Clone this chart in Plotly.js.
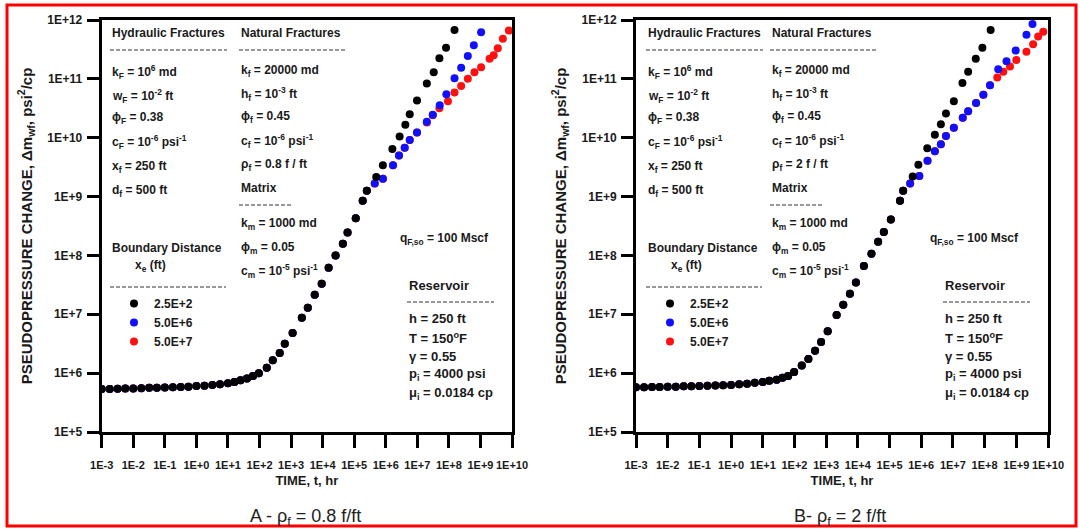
<!DOCTYPE html>
<html><head><meta charset="utf-8">
<script src="https://cdn.plot.ly/plotly-3.0.1.min.js"></script>
<style>html,body{margin:0;padding:0;background:#fff}</style>
</head><body><div id="chart" style="width:1080px;height:529px"></div>
<script>
// ---------------- DATA ----------------
const seriesNames = ['2.5E+2', '5.0E+6', '5.0E+7'];          // boundary distance x_e (ft)
const seriesColors = ['#000000', '#1010ff', '#ff1010'];

const xTickVals = [1e-3, 1e-2, 1e-1, 1e0, 1e1, 1e2, 1e3, 1e4, 1e5, 1e6, 1e7, 1e8, 1e9, 1e10];
const xTickText = ['1E-3', '1E-2', '1E-1', '1E+0', '1E+1', '1E+2', '1E+3', '1E+4', '1E+5', '1E+6', '1E+7', '1E+8', '1E+9', '1E+10'];
const yTickVals = [1e5, 1e6, 1e7, 1e8, 1e9, 1e10, 1e11, 1e12];
const yTickText = ['1E+5', '1E+6', '1E+7', '1E+8', '1E+9', '1E+10', '1E+11', '1E+12'];

// Panel A (rho_f = 0.8 f/ft) : common early-time response (all three boundaries)
const timeEarlyA = [1e-3, 1.8e-3, 3.2e-3, 5.6e-3, 1e-2, 1.8e-2, 3.2e-2, 5.6e-2, 0.1, 0.18, 0.32, 0.56,
  1, 1.8, 3.2, 5.6, 10, 16, 25, 40, 62, 95, 170, 263, 437, 631, 1120, 2190, 3390, 5620, 9330,
  15500, 25700, 43700, 61700, 112000, 186000, 251000];
const dpEarlyA = [5.37e5, 5.37e5, 5.43e5, 5.5e5, 5.5e5, 5.56e5, 5.62e5, 5.62e5, 5.69e5, 5.75e5, 5.82e5, 5.89e5,
  6.03e5, 6.1e5, 6.31e5, 6.46e5, 6.76e5, 7.08e5, 7.59e5, 8.13e5, 8.91e5, 1.0e6, 1.23e6, 1.66e6, 2.19e6, 3.16e6,
  4.79e6, 8.71e6, 1.29e7, 2.14e7, 3.31e7, 6.17e7, 1.0e8, 1.58e8, 2.45e8, 4.27e8, 8.51e8, 1.26e9];
// Panel A late-time, per boundary distance
const timeBlackA = [5.0e5, 8.1e5, 1.62e6, 2.75e6, 4.17e6, 5.75e6, 9.77e6, 2.0e7, 3.31e7, 5.01e7, 8.13e7, 1.51e8];
const dpBlackA = [2.14e9, 3.39e9, 6.46e9, 1.05e10, 1.66e10, 2.51e10, 4.27e10, 8.32e10, 1.29e11, 2.24e11, 3.39e11, 6.76e11];
const timeBlueA = [4.47e5, 8.13e5, 1.70e6, 2.63e6, 3.98e6, 5.75e6, 9.77e6, 2.0e7, 3.09e7, 5.13e7, 8.32e7, 1.51e8,
  2.45e8, 3.98e8, 6.17e8, 1.05e9];
const dpBlueA = [1.66e9, 2.0e9, 3.39e9, 5.01e9, 6.76e9, 9.12e9, 1.23e10, 1.86e10, 2.45e10, 3.55e10, 5.5e10, 1.02e11,
  1.55e11, 2.45e11, 3.72e11, 6.17e11];
const timeRedA = [4.47e5, 8.13e5, 1.70e6, 2.63e6, 3.98e6, 5.75e6, 9.77e6, 2.0e7, 3.09e7, 5.01e7, 9.33e7, 1.51e8,
  2.45e8, 3.98e8, 6.46e8, 1.05e9, 1.95e9, 2.63e9, 3.55e9, 5.13e9, 7.94e9];
const dpRedA = [1.66e9, 2.0e9, 3.39e9, 5.01e9, 6.76e9, 9.12e9, 1.23e10, 1.82e10, 2.40e10, 3.16e10, 4.17e10, 5.89e10,
  7.59e10, 1.0e11, 1.29e11, 1.58e11, 2.19e11, 2.51e11, 3.31e11, 4.79e11, 6.61e11];

// Panel B (rho_f = 2 f/ft)
const timeEarlyB = [1e-3, 1.8e-3, 3.2e-3, 5.6e-3, 1e-2, 1.8e-2, 3.2e-2, 5.6e-2, 0.1, 0.18, 0.32, 0.56,
  1, 1.8, 3.2, 5.6, 10, 16, 27.5, 41.7, 63.1, 97.7, 170, 275, 447, 692, 1120, 2140, 3470, 5620, 8710,
  15500, 26900, 43700, 66100, 110000, 214000, 269000];
const dpEarlyB = [5.75e5, 5.75e5, 5.82e5, 5.82e5, 5.89e5, 5.89e5, 5.96e5, 5.96e5, 6.03e5, 6.1e5, 6.17e5, 6.24e5,
  6.31e5, 6.46e5, 6.61e5, 6.84e5, 7.08e5, 7.41e5, 7.76e5, 8.32e5, 8.91e5, 1.05e6, 1.35e6, 1.74e6, 2.40e6, 3.39e6,
  5.13e6, 9.77e6, 1.45e7, 2.24e7, 3.47e7, 6.61e7, 1.07e8, 1.70e8, 2.51e8, 4.07e8, 8.51e8, 1.26e9];
const timeBlackB = [5.37e5, 8.13e5, 1.55e6, 2.69e6, 4.17e6, 6.03e6, 1.07e7, 2.0e7, 3.02e7, 5.25e7, 8.51e7, 1.55e8];
const dpBlackB = [2.19e9, 3.47e9, 6.61e9, 1.12e10, 1.70e10, 2.57e10, 4.17e10, 8.51e10, 1.32e11, 2.19e11, 3.39e11, 6.76e11];
const timeBlueB = [4.47e5, 8.71e5, 1.58e6, 2.69e6, 4.17e6, 6.03e6, 1.07e7, 2.04e7, 3.02e7, 5.37e7, 9.12e7, 1.48e8,
  2.69e8, 4.90e8, 9.55e8, 2.09e9, 3.24e9];
const dpBlueB = [1.66e9, 2.24e9, 4.07e9, 5.89e9, 7.76e9, 1.07e10, 1.48e10, 2.19e10, 2.82e10, 3.89e10, 5.37e10, 7.76e10,
  1.45e11, 2.0e11, 3.02e11, 5.62e11, 8.51e11];
const timeRedB = [4.47e5, 8.71e5, 1.58e6, 2.69e6, 4.17e6, 6.03e6, 1.07e7, 2.04e7, 3.02e7, 5.37e7, 9.12e7, 1.48e8,
  2.51e8, 3.89e8, 6.31e8, 1.0e9, 2.09e9, 3.39e9, 4.90e9, 7.08e9];
const dpRedB = [1.66e9, 2.24e9, 4.07e9, 5.89e9, 7.76e9, 1.07e10, 1.48e10, 2.19e10, 2.82e10, 3.89e10, 5.37e10, 7.76e10,
  1.05e11, 1.32e11, 1.62e11, 2.09e11, 2.88e11, 3.89e11, 5.25e11, 6.31e11];

// ---------------- LAYOUT HELPERS ----------------
const W = 1080, H = 529;
const px = x => x / W;
const py = y => 1 - y / H;
const FONT = "'Liberation Sans Narrow', 'Arial Narrow', 'Liberation Sans', Arial, sans-serif";
const TXT = '#1a1a1a';

function mk(name, color, xs, ys, xa, ya, lg) {
  return { type: 'scatter', mode: 'markers', name: name, x: xs, y: ys, xaxis: xa, yaxis: ya, legend: lg,
    marker: { color: color, size: 8, line: { width: 0 } }, cliponaxis: true, hoverinfo: 'x+y+name' };
}
const traces = [
  mk(seriesNames[2], seriesColors[2], timeEarlyA.concat(timeRedA), dpEarlyA.concat(dpRedA), 'x', 'y', 'legend'),
  mk(seriesNames[1], seriesColors[1], timeEarlyA.concat(timeBlueA), dpEarlyA.concat(dpBlueA), 'x', 'y', 'legend'),
  mk(seriesNames[0], seriesColors[0], timeEarlyA.concat(timeBlackA), dpEarlyA.concat(dpBlackA), 'x', 'y', 'legend'),
  mk(seriesNames[2], seriesColors[2], timeEarlyB.concat(timeRedB), dpEarlyB.concat(dpRedB), 'x2', 'y2', 'legend2'),
  mk(seriesNames[1], seriesColors[1], timeEarlyB.concat(timeBlueB), dpEarlyB.concat(dpBlueB), 'x2', 'y2', 'legend2'),
  mk(seriesNames[0], seriesColors[0], timeEarlyB.concat(timeBlackB), dpEarlyB.concat(dpBlackB), 'x2', 'y2', 'legend2')
];

const yTitle = 'PSEUDOPRESSURE CHANGE, Δm<sub>wf</sub>, psi<sup>2</sup>/cp';
function xAxis(domain, anchor) {
  return { type: 'log', domain: domain, anchor: anchor, range: [-3, 10], tickvals: xTickVals, ticktext: xTickText,
    tickangle: 0, showline: true, linewidth: 3, linecolor: '#000', mirror: true, ticks: 'outside', ticklen: 13, tickwidth: 3,
    tickcolor: '#000', showgrid: false, zeroline: false, ticklabelstandoff: 8,
    tickfont: { family: FONT, size: 11, weight: 'bold', color: TXT },
    title: { text: 'TIME, t, hr', standoff: 6, font: { family: FONT, size: 13, weight: 'bold', color: TXT } } };
}
function yAxis(domain, anchor) {
  return { type: 'log', domain: domain, anchor: anchor, range: [5, 12], tickvals: yTickVals, ticktext: yTickText,
    showline: true, linewidth: 3, linecolor: '#000', mirror: true, ticks: 'outside', ticklen: 12, tickwidth: 3,
    tickcolor: '#000', showgrid: false, zeroline: false, ticklabelstandoff: 2,
    tickfont: { family: FONT, size: 12, weight: 'bold', color: TXT },
    title: { text: yTitle, standoff: 12, font: { family: FONT, size: 15, weight: 'bold', color: TXT } } };
}
const yDom = [py(432), py(20)];

// ---- annotations (parameter boxes) ----
const ann = [];
function t(x, y, text, opts) {
  ann.push(Object.assign({ xref: 'paper', yref: 'paper', x: px(x), y: py(y), text: text, showarrow: false,
    xanchor: 'left', yanchor: 'middle', font: { family: FONT, size: 12, weight: 'bold', color: TXT } }, opts || {}));
}
const shapes = [];
function dash(x0, x1, y) {
  shapes.push({ type: 'line', xref: 'paper', yref: 'paper', x0: px(x0), x1: px(x1), y0: py(y), y1: py(y),
    line: { color: '#333', width: 1.2, dash: '4px,2px' } });
}
const big = { font: { family: FONT, size: 13, weight: 'bold', color: TXT } };
function panelText(o, rhoText, cmExp) {
  const hx = o.hx, nx = o.nx;
  t(hx, 33, 'Hydraulic Fractures'); dash(hx, hx + 117, 50);
  t(hx, 72, 'k<sub>F</sub> = 10<sup>6</sup> md');
  t(hx, 96, 'w<sub>F</sub> = 10<sup>-2</sup> ft');
  t(hx, 118, 'ϕ<sub>F</sub> = 0.38');
  t(hx, 142, 'c<sub>F</sub> = 10<sup>-6</sup> psi<sup>-1</sup>');
  t(hx, 167, 'x<sub>f</sub> = 250 ft');
  t(hx, 191, 'd<sub>f</sub> = 500 ft');
  t(nx, 33, 'Natural Fractures'); dash(nx, nx + 106, 50);
  t(nx, 71, 'k<sub>f</sub> = 20000 md');
  t(nx, 94, 'h<sub>f</sub> = 10<sup>-3</sup> ft');
  t(nx, 117, 'ϕ<sub>f</sub> = 0.45');
  t(nx, 141, 'c<sub>f</sub> = 10<sup>-6</sup> psi<sup>-1</sup>');
  t(nx, 165, rhoText);
  t(nx, 188, 'Matrix'); dash(nx, nx + 53, 205);
  t(nx, 224, 'k<sub>m</sub> = 1000 md');
  t(nx, 248, 'ϕ<sub>m</sub> = 0.05');
  t(nx, 271, 'c<sub>m</sub> = 10<sup>' + cmExp + '</sup> psi<sup>-1</sup>');
  t(hx, 248, 'Boundary Distance');
  t(o.xe, 266, 'x<sub>e</sub> (ft)', { xanchor: 'center' });
  dash(hx, hx + 116, 287);
  t(o.qx, 239, 'q<sub>F,so</sub> = 100 Mscf');
  t(o.rx, 285, 'Reservoir', big); dash(o.rx, o.rx + 87, 302);
  t(o.rx, 318, 'h = 250 ft', big);
  t(o.rx, 338, 'T = 150<sup>o</sup>F', big);
  t(o.rx, 356, 'γ = 0.55', big);
  t(o.rx, 374, 'p<sub>i</sub> = 4000 psi', big);
  t(o.rx, 393, 'μ<sub>i</sub> = 0.0184 cp', big);
}
panelText({ hx: 110, nx: 239, xe: 150, qx: 398, rx: 407 }, 'ρ<sub>f</sub> = 0.8 f / ft', '-5');
panelText({ hx: 646, nx: 770, xe: 686, qx: 928, rx: 943 }, 'ρ<sub>f</sub> = 2 f / ft', '-5');

// captions
ann.push({ xref: 'paper', yref: 'paper', x: px(305), y: py(517), text: 'A - ρ<sub>f</sub> = 0.8 f/ft', showarrow: false,
  xanchor: 'center', yanchor: 'middle', font: { family: FONT, size: 18, color: '#222' } });
ann.push({ xref: 'paper', yref: 'paper', x: px(840), y: py(517), text: 'B- ρ<sub>f</sub> = 2 f/ft', showarrow: false,
  xanchor: 'center', yanchor: 'middle', font: { family: FONT, size: 18, color: '#222' } });

// red frame
shapes.push({ type: 'rect', xref: 'paper', yref: 'paper', x0: px(7), x1: px(1076), y0: py(526), y1: py(5),
  line: { color: '#ff0000', width: 3 } });

function legendAt(x, y) {
  return { x: px(x), y: py(y), xanchor: 'left', yanchor: 'top', bgcolor: 'rgba(0,0,0,0)', borderwidth: 0,
    traceorder: 'reversed', tracegroupgap: 0, itemwidth: 30,
    font: { family: FONT, size: 12, weight: 'bold', color: TXT } };
}

const layout = {
  width: W, height: H, autosize: false,
  margin: { l: 0, r: 0, t: 0, b: 0 },
  paper_bgcolor: '#fff', plot_bgcolor: '#fff',
  showlegend: true,
  xaxis: xAxis([px(101.7), px(512)], 'y'),
  yaxis: yAxis(yDom, 'x'),
  xaxis2: xAxis([px(636), px(1048)], 'y2'),
  yaxis2: yAxis(yDom, 'x2'),
  legend: legendAt(114, 289),
  legend2: legendAt(650, 289),
  annotations: ann,
  shapes: shapes
};

Plotly.newPlot('chart', traces, layout, { displayModeBar: false, staticPlot: true });
</script>
</body></html>
